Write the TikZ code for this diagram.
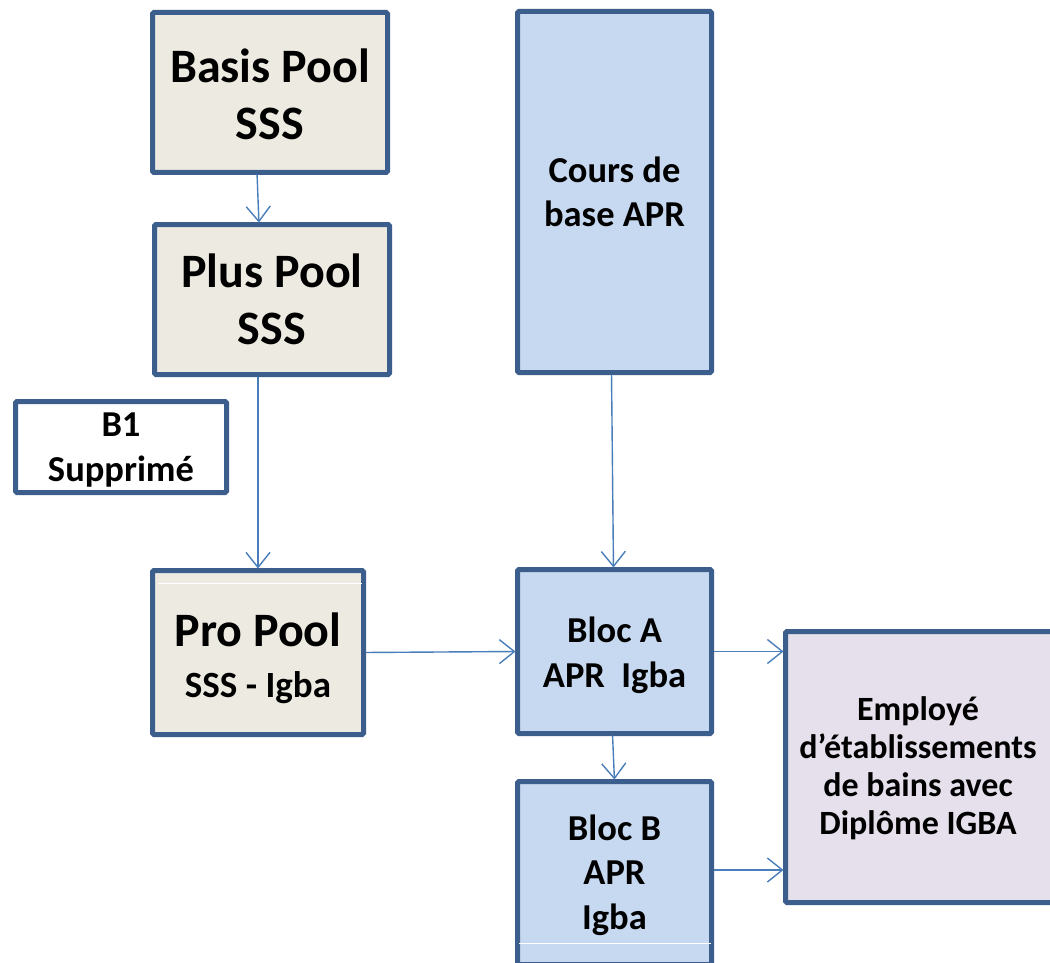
\documentclass[tikz,border=0pt]{standalone}
\usepackage{fontspec}
\setmainfont{Carlito}
\usetikzlibrary{arrows.meta}
\definecolor{bord}{HTML}{3B5E8C}
\definecolor{tanfill}{HTML}{EDEBE1}
\definecolor{bluefill}{HTML}{C6D9F0}
\definecolor{lilac}{HTML}{E5E0EC}
\definecolor{arrowc}{HTML}{4A7EBB}
\begin{document}
\begin{tikzpicture}[x=1pt,y=-1pt,
  box/.style={draw=bord, line width=5pt, rounded corners=1.5pt, outer sep=0pt, inner sep=0pt, align=center},
  tanbox/.style={box, fill=tanfill},
  bluebox/.style={box, fill=bluefill},
  txt/.style={align=center, inner sep=0pt},
  bigtxt/.style={txt, font=\bfseries\fontsize{48}{57}\selectfont},
  midtxt/.style={txt, font=\bfseries\fontsize{36.5}{44.5}\selectfont},
  conn/.style={draw=arrowc, line width=1.4pt, shorten >=2pt, shorten <=2pt, -{Straight Barb[length=15pt,width=24pt]}}]
\clip (0,0) rectangle (1050,963);
\fill[white] (0,0) rectangle (1050,963);
% boxes
\node[tanbox, minimum width=235pt, minimum height=160pt] (basis) at (270,92.5) {};
\node[tanbox, minimum width=235pt, minimum height=150pt] (plus) at (272,299.5) {};
\node[box, fill=white, minimum width=211pt, minimum height=91pt] (b1) at (121,447) {};
\node[tanbox, minimum width=211pt, minimum height=164pt] (pro) at (258,652.5) {};
\node[bluebox, minimum width=194pt, minimum height=361pt] (cours) at (614.5,192) {};
\node[bluebox, minimum width=194pt, minimum height=164pt] (bloca) at (614.5,651.5) {};
\node[bluebox, minimum width=194pt, minimum height=183pt] (blocb) at (614.5,873) {};
\node[box, fill=lilac, minimum width=300pt, minimum height=271pt, anchor=north west] (emp) at (785.5,631.5) {};
% texts
\node[bigtxt] (basis-t) at ([yshift=-2pt]basis.center) {Basis Pool\\SSS};
\node[bigtxt] (plus-t) at (plus.center) {Plus Pool\\SSS};
\node[midtxt] (b1-t) at ([yshift=-3pt]b1.center) {B1\\Supprimé};
\node[txt, font=\bfseries\fontsize{48}{51}\selectfont] (pro-t) at ([yshift=-6pt]pro.center)
  {Pro Pool\\{\fontsize{37}{44}\selectfont SSS - Igba}};
\node[midtxt] (cours-t) at (cours.center) {Cours de\\base APR};
\node[midtxt] (bloca-t) at ([yshift=-4pt]bloca.center) {Bloc A\\APR\ \ Igba};
\node[midtxt] (blocb-t) at ([yshift=-2pt]blocb.center) {Bloc B\\APR\\Igba};
\node[txt, font=\bfseries\fontsize{34}{38}\selectfont] (emp-t) at (918,768.5)
  {Employé\\d’établissements\\de bains avec\\Diplôme IGBA};
% white lines inside boxes
\draw[white, line width=1pt] (158,583) -- (362,583);
\draw[white, line width=1pt] (519,943) -- (711,943);
% connectors
\coordinate (bbout) at ([yshift=3pt]blocb.east);
\draw[conn] ([xshift=-13pt]basis.south) -- ([xshift=-13pt]plus.north);
\draw[conn] ([xshift=-14pt]plus.south) -- (pro.north);
\draw[conn] ([xshift=-3pt]cours.south) -- ([xshift=-1pt]bloca.north);
\draw[conn] (pro.east) -- (bloca.west);
\draw[conn] (bloca.east) -- (emp.west |- bloca.east);
\draw[conn] ([xshift=-2pt]bloca.south) -- (blocb.north);
\draw[conn] (bbout) -- (emp.west |- bbout);
\end{tikzpicture}
\end{document}
